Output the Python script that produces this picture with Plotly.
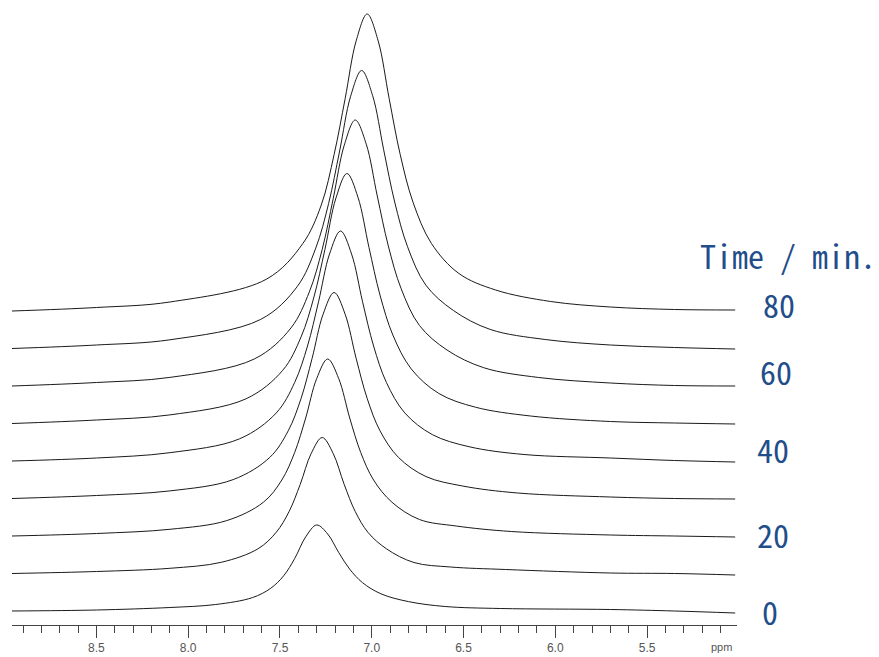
import plotly.graph_objects as go

# Reaction time of each spectrum (min)
times = [0, 10, 20, 30, 40, 50, 60, 70, 80]
label_times = [0, 20, 40, 60, 80]

# Chemical shift (ppm) and intensity (a.u.)
ppm_00 = [8.96, 8.5, 8.1, 7.85, 7.65, 7.55, 7.48, 7.42, 7.36, 7.30, 7.24, 7.18, 7.12, 7.05, 6.95, 6.80, 6.60, 6.30, 5.70, 5.35, 5.02]
int_00 = [0, 1, 3.5, 6.5, 13.4, 22.8, 35.2, 52.4, 74.1, 86, 77, 58.5, 41.8, 28.3, 17.2, 9.4, 4.5, 2.5, 1.5, 0, -2]

ppm_10 = [8.96, 8.5, 8.1, 7.82, 7.62, 7.52, 7.45, 7.39, 7.33, 7.27, 7.21, 7.15, 7.09, 7.02, 6.92, 6.77, 6.57, 6.27, 5.70, 5.35, 5.02]
int_10 = [0, 2, 5.2, 11.2, 24.7, 41.3, 62.1, 89, 120, 136, 120, 89, 62, 41, 24.7, 11, 6.5, 4, 0.5, 0, -1.5]

ppm_20 = [8.96, 8.5, 8.1, 7.79, 7.59, 7.49, 7.42, 7.36, 7.30, 7.24, 7.18, 7.12, 7.06, 6.99, 6.89, 6.74, 6.54, 6.24, 5.70, 5.35, 5.02]
int_20 = [0, 2.5, 6.7, 15.4, 33.8, 56, 83.5, 118, 157.4, 177, 157.4, 118, 83.5, 56, 33.8, 16.5, 10, 4.5, 1, 0, -1]

ppm_30 = [8.96, 8.5, 8.1, 7.755, 7.555, 7.455, 7.385, 7.325, 7.265, 7.205, 7.145, 7.085, 7.025, 6.955, 6.855, 6.705, 6.505, 6.205, 5.70, 5.35, 5.02]
int_30 = [0, 3, 7.6, 18.9, 41.2, 67.7, 100.1, 140.1, 184.3, 206, 184.3, 140.1, 100.1, 67.7, 41.2, 22, 12.5, 5.5, 1.5, 0, -0.5]

ppm_40 = [8.96, 8.5, 8.1, 7.72, 7.52, 7.42, 7.35, 7.29, 7.23, 7.17, 7.11, 7.05, 6.99, 6.92, 6.82, 6.67, 6.47, 6.17, 5.70, 5.35, 5.02]
int_40 = [0, 3, 8.3, 22.2, 48.1, 78.5, 115, 159.2, 207, 230, 207, 159.2, 115, 78.5, 48.1, 26.4, 14.3, 6.5, 3, 0.5, -1]

ppm_50 = [8.96, 8.5, 8.1, 7.685, 7.485, 7.385, 7.315, 7.255, 7.195, 7.135, 7.075, 7.015, 6.955, 6.885, 6.785, 6.635, 6.435, 6.135, 5.70, 5.35, 5.02]
int_50 = [0, 3.5, 8.6, 24.7, 53.2, 86.6, 126.4, 174.2, 225.5, 250, 226.2, 176, 128.4, 88.5, 54.6, 30.1, 16.3, 7.5, 2, 0.5, -0.5]

ppm_60 = [8.96, 8.5, 8.1, 7.64, 7.44, 7.34, 7.27, 7.21, 7.15, 7.09, 7.03, 6.97, 6.91, 6.84, 6.74, 6.59, 6.39, 6.09, 5.70, 5.35, 5.02]
int_60 = [0, 3.5, 8.6, 27, 58.1, 94.1, 136.6, 187.3, 240.7, 266, 241.9, 190.1, 140.2, 97.4, 60.5, 36, 18.3, 8.5, 3, 0.5, 0]

ppm_70 = [8.96, 8.5, 8.1, 7.605, 7.405, 7.305, 7.235, 7.175, 7.115, 7.055, 6.995, 6.935, 6.875, 6.805, 6.705, 6.555, 6.355, 6.055, 5.70, 5.35, 5.02]
int_70 = [0, 3.5, 8.7, 29.1, 62.2, 100.4, 145, 197.5, 252.3, 278, 252.8, 198.7, 146.5, 101.8, 63.3, 38, 19.1, 9, 3.5, 1, -0.5]

ppm_80 = [8.96, 8.5, 8.1, 7.575, 7.375, 7.275, 7.205, 7.145, 7.085, 7.025, 6.965, 6.905, 6.845, 6.775, 6.675, 6.525, 6.325, 6.025, 5.70, 5.35, 5.02]
int_80 = [0, 3.5, 9, 31.7, 67.6, 106, 156.5, 212.3, 270.1, 297, 270.1, 212.3, 156.5, 108.7, 67.6, 37.5, 21, 9.5, 4, 1.5, 1]

spectra_ppm = [ppm_00, ppm_10, ppm_20, ppm_30, ppm_40, ppm_50, ppm_60, ppm_70, ppm_80]
spectra_int = [int_00, int_10, int_20, int_30, int_40, int_50, int_60, int_70, int_80]

# vertical stacking: offset per minute (intensity units)
STACK_PER_MIN = 3.75

fig = go.Figure()
for t, xs, ys in zip(times, spectra_ppm, spectra_int):
    off = t * STACK_PER_MIN
    fig.add_trace(go.Scatter(
        x=xs, y=[v + off for v in ys], mode="lines",
        line=dict(color="#1a1a1a", width=1, shape="spline", smoothing=1.0),
        hoverinfo="skip", showlegend=False))

L, R, T, B = 12, 142, 0, 32
W, H = 879, 657
plot_w = W - L - R
plot_h = H - T - B

def px_to_paper_x(px):
    return (px - L) / plot_w

def px_to_paper_y(py):
    return (H - B - py) / plot_h

label_color = "#1f4e8a"
label_font = dict(family="Noto Sans Mono CJK JP, DejaVu Sans Mono, monospace", size=32, color=label_color)

label_pos = {0: (770, 0), 20: (773, 77), 40: (773, 162), 60: (776, 240), 80: (779, 307)}
annotations = []
for t in label_times:
    px, yv = label_pos[t]
    annotations.append(dict(x=px_to_paper_x(px), xref="paper", y=yv, yref="y",
                            text=str(t), showarrow=False, font=label_font,
                            xanchor="center", yanchor="middle"))
annotations.append(dict(x=px_to_paper_x(788), xref="paper", y=356, yref="y",
                        text="Time / min.", showarrow=False, font=label_font,
                        xanchor="center", yanchor="middle"))
annotations.append(dict(x=px_to_paper_x(721), xref="paper", y=px_to_paper_y(647), yref="paper",
                        text="ppm", showarrow=False,
                        font=dict(family="Liberation Sans, Arial, sans-serif", size=11, color="#555555"),
                        xanchor="center", yanchor="middle"))

fig.update_layout(
    width=W, height=H,
    margin=dict(l=L, r=R, t=T, b=B, pad=0),
    paper_bgcolor="white", plot_bgcolor="white",
    annotations=annotations,
    xaxis=dict(
        range=[8.96, 5.01], showgrid=False, zeroline=False,
        showline=True, linecolor="#444444", linewidth=1,
        ticks="outside", ticklen=12, tickwidth=1, tickcolor="#444444",
        tick0=0, dtick=0.5, tickformat=".1f",
        tickfont=dict(family="Liberation Sans, Arial, sans-serif", size=12, color="#555555"),
        minor=dict(dtick=0.1, tick0=0, ticks="outside", ticklen=7, tickcolor="#444444", showgrid=False),
    ),
    yaxis=dict(range=[-14, 611], visible=False, showgrid=False, zeroline=False),
)

fig.write_html("out.html")
